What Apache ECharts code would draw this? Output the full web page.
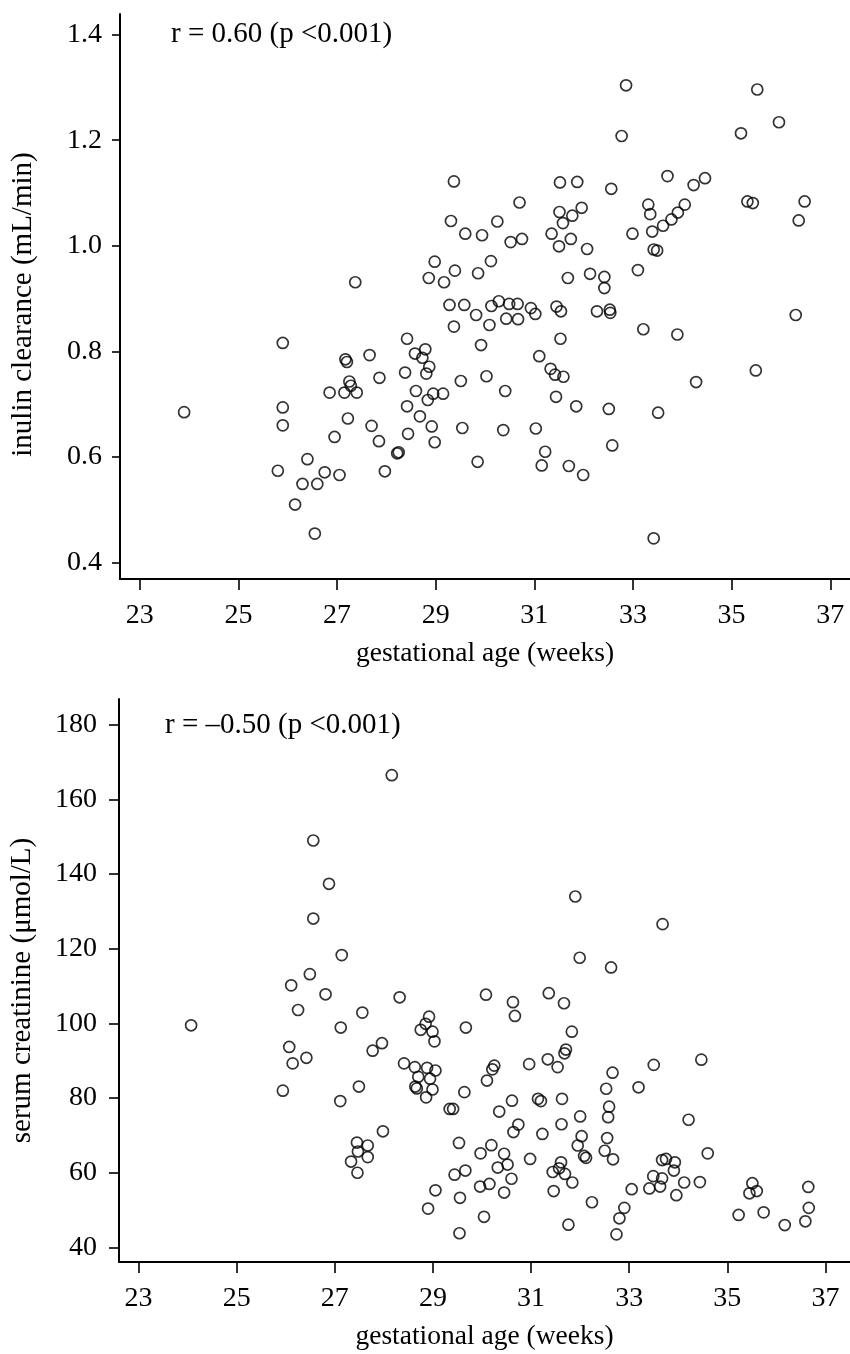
<!DOCTYPE html>
<html>
<head>
<meta charset="utf-8">
<script src="https://cdn.jsdelivr.net/npm/echarts@6.0.0/dist/echarts.min.js"></script>
<style>
html, body { margin: 0; padding: 0; background: #fff; }
#chart { width: 850px; height: 1354px; }
</style>
</head>
<body>
<div id="chart"></div>
<script>
// gestational age (weeks) vs inulin clearance (mL/min)
var ageInulin = [
  23.9, 25.9, 25.9, 25.9, 25.8, 26.3, 26.15, 26.4, 26.55, 26.6,
  26.75, 27.05, 26.95, 26.85, 27.15, 27.17, 27.2, 27.25, 27.28, 27.4,
  27.22, 27.37, 27.66, 27.7, 27.86, 27.85, 27.97, 28.22, 28.25, 28.42,
  28.38, 28.42, 28.44, 28.6, 28.58, 28.73, 28.79, 28.87, 28.81, 28.86,
  28.68, 28.84, 28.95, 28.92, 28.98, 28.98, 29.15, 29.17, 29.28, 29.37,
  29.39, 29.37, 29.31, 29.51, 29.54, 29.58, 29.6, 29.82, 29.86, 29.92,
  29.85, 29.94, 30.03, 30.09, 30.13, 30.12, 30.25, 30.28, 30.41, 30.37,
  30.43, 30.49, 30.52, 30.66, 30.67, 30.7, 30.75, 30.93, 31.02, 31.03,
  31.1, 31.15, 31.22, 31.35, 31.33, 31.42, 31.44, 31.45, 31.54, 31.53,
  31.59, 31.5, 31.51, 31.52, 31.58, 31.68, 31.74, 31.77, 31.7, 31.87,
  31.85, 31.96, 32.07, 31.99, 32.13, 32.27, 32.42, 32.42, 32.53, 32.54,
  32.56, 32.51, 32.58, 32.77, 32.86, 32.99, 33.1, 33.21, 33.31, 33.35,
  33.39, 33.42, 33.49, 33.51, 33.42, 33.61, 33.7, 33.78, 33.91, 34.05,
  33.9, 34.23, 34.28, 34.46, 35.19, 35.32, 35.43, 35.52, 35.49, 35.96,
  36.3, 36.36, 36.48
];
var inulin = [
  0.685, 0.816, 0.694, 0.66, 0.574, 0.549, 0.51, 0.596, 0.455, 0.549,
  0.571, 0.566, 0.638, 0.722, 0.722, 0.785, 0.78, 0.743, 0.735, 0.722,
  0.673, 0.931, 0.793, 0.659, 0.75, 0.63, 0.573, 0.607, 0.609, 0.824,
  0.76, 0.696, 0.644, 0.725, 0.796, 0.788, 0.804, 0.771, 0.758, 0.939,
  0.677, 0.708, 0.72, 0.658, 0.628, 0.97, 0.72, 0.931, 0.888, 0.847,
  0.953, 1.122, 1.047, 0.744, 0.655, 0.888, 1.023, 0.869, 0.948, 0.812,
  0.591, 1.02, 0.753, 0.85, 0.886, 0.971, 1.046, 0.895, 0.725, 0.651,
  0.862, 0.89, 1.007, 0.89, 0.861, 1.082, 1.013, 0.882, 0.871, 0.654,
  0.791, 0.584, 0.61, 1.023, 0.767, 0.756, 0.714, 0.885, 0.876, 0.824,
  0.752, 0.999, 1.064, 1.12, 1.043, 0.939, 1.013, 1.057, 0.583, 1.121,
  0.696, 1.072, 0.994, 0.566, 0.947, 0.876, 0.941, 0.92, 0.879, 0.873,
  1.108, 0.691, 0.622, 1.208, 1.304, 1.023, 0.954, 0.842, 1.078, 1.06,
  1.027, 0.993, 0.991, 0.684, 0.446, 1.038, 1.132, 1.05, 1.063, 1.078,
  0.832, 1.115, 0.742, 1.128, 1.213, 1.084, 1.081, 1.296, 0.764, 1.234,
  0.869, 1.048, 1.084
];

// gestational age (weeks) vs serum creatinine (µmol/L)
var ageCreat = [
  24.07, 25.94, 26.07, 26.11, 26.14, 26.25, 26.42, 26.49, 26.56, 26.56,
  26.81, 26.88, 27.12, 27.14, 27.11, 27.33, 27.45, 27.47, 27.46, 27.49,
  27.56, 27.67, 27.67, 27.77, 27.96, 27.98, 28.16, 28.32, 28.41, 28.63,
  28.64, 28.67, 28.7, 28.75, 28.85, 28.92, 28.88, 28.94, 28.99, 29.03,
  29.05, 28.99, 28.86, 29.05, 28.9, 29.34, 29.41, 29.44, 29.53, 29.55,
  29.54, 29.64, 29.66, 29.67, 29.97, 29.96, 30.04, 30.08, 30.1, 30.15,
  30.19, 30.21, 30.25, 30.35, 30.32, 30.45, 30.45, 30.52, 30.6, 30.61,
  30.63, 30.67, 30.64, 30.74, 30.96, 30.98, 31.14, 31.2, 31.23, 31.36,
  31.34, 31.44, 31.46, 31.54, 31.57, 31.61, 31.63, 31.62, 31.67, 31.69,
  31.68, 31.71, 31.76, 31.83, 31.84, 31.9, 31.95, 31.99, 32.0, 32.03,
  32.08, 32.12, 32.24, 32.5, 32.53, 32.55, 32.57, 32.59, 32.63, 32.66,
  32.67, 32.74, 32.8, 32.9, 33.05, 33.19, 33.41, 33.49, 33.5, 33.63,
  33.67, 33.67, 33.75, 33.68, 33.91, 33.93, 33.96, 34.12, 34.21, 34.44,
  34.47, 34.6, 35.23, 35.45, 35.51, 35.6, 35.74, 36.17, 36.59, 36.66, 36.65
];
var creatinine = [
  99.5, 82.0, 93.7, 110.2, 89.3, 103.6, 90.8, 113.2, 149.0, 128.1,
  107.8, 137.4, 98.9, 118.3, 79.2, 63.0, 68.1, 65.7, 60.0, 83.1,
  102.9, 67.3, 64.2, 92.7, 94.7, 71.1, 166.5, 107.0, 89.3, 88.3,
  83.1, 82.6, 85.7, 98.3, 99.9, 101.8, 88.1, 85.2, 97.8, 95.2,
  87.4, 82.3, 80.2, 55.3, 50.4, 77.1, 77.1, 59.5, 68.0, 53.3,
  43.8, 81.6, 60.6, 98.9, 65.2, 56.3, 48.2, 107.7, 84.7, 57.0,
  67.4, 87.7, 88.7, 76.4, 61.4, 65.1, 54.7, 62.2, 58.4, 79.3,
  105.7, 102.0, 70.9, 72.9, 89.1, 63.7, 79.8, 79.2, 70.4, 108.1,
  90.4, 60.2, 55.1, 88.3, 61.2, 62.8, 79.8, 73.0, 105.4, 59.7,
  92.0, 93.0, 46.1, 97.8, 57.4, 134.0, 67.3, 117.6, 75.1, 69.8,
  64.5, 64.0, 52.1, 65.9, 82.5, 69.3, 74.9, 77.7, 115.0, 86.8,
  63.6, 43.5, 47.8, 50.6, 55.6, 82.9, 55.8, 59.1, 88.9, 56.3,
  58.5, 63.4, 63.7, 126.6, 60.6, 62.8, 54.0, 57.4, 74.2, 57.5,
  90.3, 65.2, 48.7, 54.5, 57.2, 55.1, 49.4, 46.0, 47.0, 50.6, 56.2
];

var weekTicks = [23, 25, 27, 29, 31, 33, 35, 37];
var inulinTicks = [0.4, 0.6, 0.8, 1.0, 1.2, 1.4];
var creatTicks = [40, 60, 80, 100, 120, 140, 160, 180];

var FONT = '"Liberation Serif", "DejaVu Serif", serif';

function zip(xs, ys) {
    return xs.map(function (x, i) { return [x, ys[i]]; });
}

function xAxisFor(gridIndex, min, max) {
    return {
        type: 'value',
        gridIndex: gridIndex,
        min: min,
        max: max,
        name: 'gestational age (weeks)',
        nameLocation: 'middle',
        nameGap: 61,
        nameTextStyle: { fontFamily: FONT, fontSize: 27.5, color: '#000' },
        axisLine: { show: true, onZero: false, lineStyle: { color: '#000', width: 2 } },
        axisTick: { show: true, length: 11, customValues: weekTicks, lineStyle: { color: '#000', width: 1.6 } },
        axisLabel: { customValues: weekTicks, fontFamily: FONT, fontSize: 28, color: '#000', margin: 23 },
        splitLine: { show: false }
    };
}

function yAxisFor(gridIndex, min, max, ticks, name, digits, margin, tickLen, shift) {
    return {
        type: 'value',
        gridIndex: gridIndex,
        min: min,
        max: max,
        name: name,
        nameLocation: 'middle',
        nameGap: 82,
        // extra right padding pushes the rotated title a little further down
        nameTextStyle: { fontFamily: FONT, fontSize: 29, color: '#000', padding: [0, shift, 0, 0] },
        axisLine: { show: true, onZero: false, lineStyle: { color: '#000', width: 2 } },
        axisTick: { show: true, length: tickLen, customValues: ticks, lineStyle: { color: '#000', width: 1.6 } },
        axisLabel: {
            customValues: ticks,
            fontFamily: FONT, fontSize: 28, color: '#000', margin: margin,
            formatter: function (v) { return v.toFixed(digits); }
        },
        splitLine: { show: false }
    };
}

function scatterFor(index, data) {
    return {
        type: 'scatter',
        xAxisIndex: index,
        yAxisIndex: index,
        data: data,
        symbol: 'circle',
        symbolSize: 11,
        itemStyle: { color: 'rgba(0,0,0,0)', borderColor: '#000', borderWidth: 1.7 },
        emphasis: { disabled: true }
    };
}

var chart = echarts.init(document.getElementById('chart'), null, { renderer: 'canvas' });

var option = {
    animation: false,
    backgroundColor: '#fff',
    grid: [
        { left: 120, right: 0, top: 14, height: 565 },
        { left: 117, right: 0, top: 699, height: 563 }
    ],
    xAxis: [
        xAxisFor(0, 22.6, 37.4),
        xAxisFor(1, 22.6, 37.5)
    ],
    yAxis: [
        yAxisFor(0, 0.369, 1.439, inulinTicks, 'inulin clearance (mL/min)', 1, 18, 8, 16),
        yAxisFor(1, 36.1, 186.9, creatTicks, 'serum creatinine (\u03bcmol/L)', 0, 22, 10, 20)
    ],
    graphic: [
        {
            type: 'text', left: 171, top: 20,
            style: { text: 'r = 0.60 (p <0.001)', font: '29px ' + FONT, fill: '#000' }
        },
        {
            type: 'text', left: 165, top: 711,
            style: { text: 'r = \u20130.50 (p <0.001)', font: '29px ' + FONT, fill: '#000' }
        }
    ],
    series: [
        scatterFor(0, zip(ageInulin, inulin)),
        scatterFor(1, zip(ageCreat, creatinine))
    ]
};

chart.setOption(option);
</script>
</body>
</html>
